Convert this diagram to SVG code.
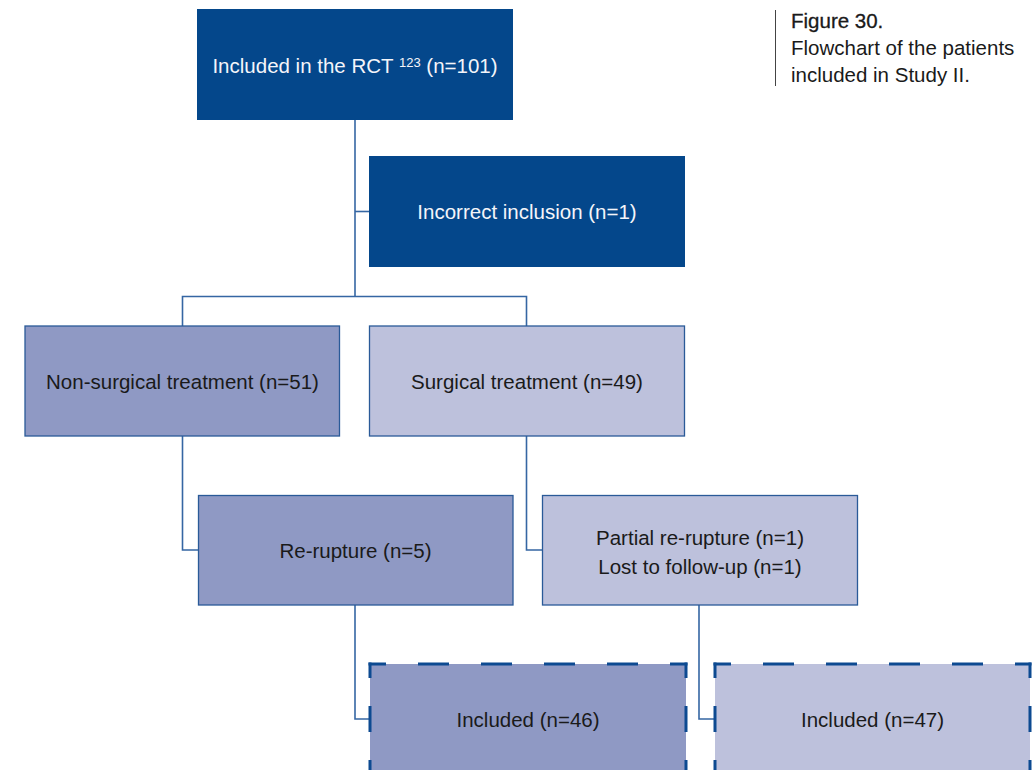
<svg xmlns="http://www.w3.org/2000/svg" width="1036" height="770" viewBox="0 0 1036 770">
<style>
text { font-family: "Liberation Sans", Arial, sans-serif; font-size: 20.5px; text-anchor: middle; }
.dark { fill: #04478B; }
.mid { fill: #8F99C4; stroke: #2A5A98; stroke-width: 1.3; }
.light { fill: #BDC1DC; stroke: #2A5A98; stroke-width: 1.3; }
.midf { fill: #8F99C4; }
.lightf { fill: #BDC1DC; }
.wt { fill: #F4F5FA; }
.bt { fill: #1A1A1A; }
.conn { fill: none; stroke: #3566A3; stroke-width: 1.6; }
.dh { stroke: #0D4A91; stroke-width: 3; stroke-dasharray: 31 32; stroke-dashoffset: 13.5; fill: none; }
.dv { stroke: #0D4A91; stroke-width: 3; stroke-dasharray: 26 28; stroke-dashoffset: 10.5; fill: none; }
.cap { text-anchor: start; fill: #1A1A1A; }
</style>

<g id="connectors">
  <path class="conn" d="M355,120 V296.5"/>
  <path class="conn" d="M355,211.5 H369"/>
  <path class="conn" d="M182.5,326 V296.5 H526.5 V326"/>
  <path class="conn" d="M182.5,436 V550 H198"/>
  <path class="conn" d="M526.5,436 V550 H542"/>
  <path class="conn" d="M355,605 V719 H370"/>
  <path class="conn" d="M699,605 V719 H715"/>
</g>

<g id="node-included-rct">
  <rect class="dark" x="197" y="9" width="316" height="111"/>
  <text class="wt" x="355" y="73">Included in the RCT <tspan font-size="13" dy="-6">123</tspan><tspan dy="6"> (n=101)</tspan></text>
</g>

<g id="node-incorrect">
  <rect class="dark" x="369" y="156" width="316" height="111"/>
  <text class="wt" x="527" y="219">Incorrect inclusion (n=1)</text>
</g>

<g id="node-nonsurgical">
  <rect class="mid" x="25" y="326" width="314.5" height="110"/>
  <text class="bt" x="182.5" y="388.5">Non-surgical treatment (n=51)</text>
</g>

<g id="node-surgical">
  <rect class="light" x="369.5" y="326" width="315" height="110"/>
  <text class="bt" x="527" y="388.5">Surgical treatment (n=49)</text>
</g>

<g id="node-rerupture">
  <rect class="mid" x="198.5" y="495.5" width="314.5" height="109.5"/>
  <text class="bt" x="355.5" y="557.5">Re-rupture (n=5)</text>
</g>

<g id="node-partial">
  <rect class="light" x="542.5" y="495.5" width="315" height="109.5"/>
  <text class="bt" x="700" y="545">Partial re-rupture (n=1)</text>
  <text class="bt" x="700" y="574">Lost to follow-up (n=1)</text>
</g>

<g id="node-included-46">
  <rect class="midf" x="370" y="664" width="316" height="110"/>
  <line class="dh" x1="368.5" y1="664" x2="687.5" y2="664"/>
  <line class="dh" x1="368.5" y1="774" x2="687.5" y2="774"/>
  <line class="dv" x1="370" y1="662.5" x2="370" y2="775.5"/>
  <line class="dv" x1="686" y1="662.5" x2="686" y2="775.5"/>
  <text class="bt" x="528" y="727">Included (n=46)</text>
</g>

<g id="node-included-47">
  <rect class="lightf" x="715" y="664" width="315" height="110"/>
  <line class="dh" x1="713.5" y1="664" x2="1031.5" y2="664"/>
  <line class="dh" x1="713.5" y1="774" x2="1031.5" y2="774"/>
  <line class="dv" x1="715" y1="662.5" x2="715" y2="775.5"/>
  <line class="dv" x1="1030" y1="662.5" x2="1030" y2="775.5"/>
  <text class="bt" x="872.5" y="727">Included (n=47)</text>
</g>

<g id="caption">
  <line x1="775.5" y1="10" x2="775.5" y2="86" stroke="#444444" stroke-width="1"/>
  <text class="cap" x="791" y="28" font-size="22.5" stroke="#1A1A1A" stroke-width="0.3">Figure 30.</text>
  <text class="cap" x="791" y="55" font-size="18.5">Flowchart of the patients</text>
  <text class="cap" x="791" y="82" font-size="18.5">included in Study II.</text>
</g>
</svg>
